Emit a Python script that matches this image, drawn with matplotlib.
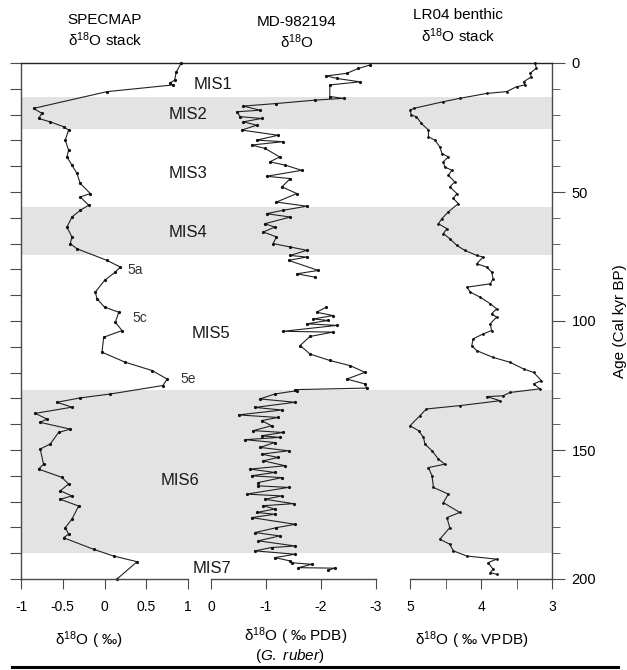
import numpy as np
import matplotlib
matplotlib.use("Agg")
import matplotlib.pyplot as plt

plt.rcParams['font.family'] = ['Liberation Sans', 'DejaVu Sans']
plt.rcParams['mathtext.fontset'] = 'custom'
plt.rcParams['mathtext.rm'] = 'Liberation Sans'
plt.rcParams['mathtext.it'] = 'Liberation Sans:italic'

# SPECMAP d18O stack
spec_age = [0, 3.4, 6.6, 7.9, 8.5, 11.1, 17.6, 19.5, 21.5, 22.8, 24.7, 26, 29.9, 33.8, 36.4,
            39.6, 42.8, 46.7, 50.6, 51.9, 55.1, 57.1, 59.7, 63.6, 67.4, 70, 72, 76.5, 79.1,
            81, 84.3, 88.8, 91.4, 94.6, 96.6, 100.5, 103.7, 106.3, 112.1, 116, 119.2, 122.5,
            125, 128.3, 129.8, 131.5, 133.4, 135.8, 138, 139.3, 141.9, 143.2, 147.7, 149.6,
            155.5, 157.4, 160.6, 163.2, 165.8, 167.8, 169.1, 171.7, 176.8, 180.1, 182.6, 184,
            188.5, 191.1, 193.3, 200]
spec_d18o = [0.92, 0.86, 0.84, 0.78, 0.82, 0.03, -0.85, -0.75, -0.79, -0.65, -0.49, -0.43,
             -0.47, -0.43, -0.45, -0.39, -0.33, -0.29, -0.17, -0.29, -0.19, -0.29, -0.39, -0.45,
             -0.39, -0.41, -0.33, 0.03, 0.19, 0.13, 0.0, -0.11, -0.09, 0.0, 0.17, 0.13, 0.21,
             -0.01, -0.03, 0.25, 0.57, 0.75, 0.70, 0.07, -0.29, -0.57, -0.39, -0.83, -0.69,
             -0.77, -0.41, -0.55, -0.65, -0.77, -0.73, -0.79, -0.51, -0.43, -0.53, -0.39, -0.53,
             -0.31, -0.39, -0.47, -0.43, -0.49, -0.13, 0.11, 0.39, 0.15]

# MD-982194 G. ruber d18O (gap between ~83 and ~95 kyr)
md_age = [0.8, 2.1, 4, 5, 6, 7.3, 8.5, 13, 13.7, 14.4, 15.7, 16.7, 18.3, 18.9, 20.8, 21.5,
          22.8, 24.1, 26, 28, 29.9, 30.5, 31.8, 33.1, 36.4, 38.3, 39.6, 41.6, 43.9, 44.8, 48,
          50.6, 53.9, 55.5, 57.1, 58.4, 59.7, 62.3, 63.6, 65.5, 67.4, 70, 71.3, 72.6, 74.6,
          75.2, 76.5, 80.4, 81.7, 83,
          None,
          94.6, 96.6, 97.9, 99.2, 99.8, 101.1, 101.7, 104, 104.3, 106, 109.5, 112.8, 115.3,
          117.3, 119.9, 122.5, 124.4, 126, 126.6, 127, 128.3, 130.2, 131.5, 133.5, 134.5,
          136.4, 137.4, 138.6, 140.6, 142.5, 143.2, 144.5, 145.1, 146, 147.1, 149, 150.3,
          151.6, 152.9, 154.2, 156.1, 157.4, 158.7, 160, 160.7, 162.6, 163.9, 164.5, 167.1,
          167.8, 169.1, 170.8, 171.6, 172.9, 174.2, 174.9, 176.2, 178.8, 180.1, 182, 183.3,
          185.2, 187.2, 187.8, 189.1, 190.4, 191.7, 193, 193.7, 194.3, 195.6, 195.8, 196.6]
md_d18o = [-2.89, -2.68, -2.47, -2.10, -2.29, -2.71, -2.16, -2.16, -2.41, -1.89, -1.19, -0.59,
           -0.89, -0.47, -0.53, -0.92, -0.59, -0.83, -0.56, -1.22, -0.83, -1.31, -0.74, -0.98,
           -1.25, -1.07, -1.35, -1.65, -1.01, -1.44, -1.29, -1.56, -1.19, -1.74, -1.31, -1.01,
           -1.44, -0.98, -1.16, -0.95, -1.19, -1.13, -1.44, -1.74, -1.44, -1.74, -1.41, -1.95,
           -1.56, -1.89,
           None,
           -2.10, -1.92, -2.22, -1.86, -2.13, -1.74, -2.29, -1.31, -2.22, -1.80, -1.62, -1.80,
           -2.16, -2.53, -2.80, -2.47, -2.80, -2.83, -1.53, -1.56, -1.16, -0.89, -1.53, -0.80,
           -1.29, -0.50, -1.22, -0.92, -1.10, -0.77, -1.31, -0.92, -1.25, -0.62, -1.16, -0.89,
           -1.41, -0.92, -1.22, -0.95, -1.35, -0.71, -1.16, -0.74, -1.29, -0.86, -0.86, -1.41,
           -0.65, -1.29, -0.98, -1.50, -0.95, -1.16, -0.83, -1.16, -0.74, -1.53, -1.19, -0.80,
           -1.25, -0.86, -1.53, -1.10, -0.80, -1.53, -1.16, -1.44, -1.47, -1.83, -1.59, -2.25,
           -2.13]

# LR04 benthic d18O stack
lr_age = [0, 2, 4, 5.3, 7.3, 8.5, 9.2, 11.1, 11.8, 13.7, 15, 17.6, 18.3, 20.2, 20.8, 23.4, 26,
          28.6, 29.9, 32.5, 35.1, 36.4, 38.3, 40.3, 41.6, 43.5, 46.1, 48, 50.6, 52.5, 54.5,
          57.7, 60.3, 62.3, 64.2, 66.1, 68.1, 70.7, 72.6, 74.6, 75.2, 77.8, 79.1, 81, 83.6,
          85.6, 86.9, 88.8, 90.8, 93.3, 95.3, 97.2, 98.5, 101.1, 103.7, 105, 106.9, 109.5,
          111.5, 114.1, 116, 118.6, 119.9, 123.1, 124.4, 126.3, 127.7, 129, 129.3, 130.9,
          132.8, 134.1, 136.7, 140.6, 142.5, 145.1, 147.7, 150.3, 153.5, 155.5, 156.8, 160,
          164.5, 167.1, 170.4, 174.2, 176.2, 180.1, 184.6, 186.5, 189.1, 191.1, 192.3, 193.7,
          196.2, 197.5, 198.2]
lr_d18o = [3.24, 3.22, 3.31, 3.29, 3.40, 3.38, 3.50, 3.64, 3.92, 4.30, 4.53, 4.95, 5.0, 4.98,
           4.91, 4.84, 4.74, 4.74, 4.65, 4.58, 4.55, 4.46, 4.53, 4.51, 4.41, 4.46, 4.37, 4.44,
           4.34, 4.39, 4.32, 4.46, 4.55, 4.60, 4.48, 4.53, 4.44, 4.34, 4.23, 4.06, 3.97, 4.06,
           3.92, 3.85, 3.83, 3.87, 4.20, 4.15, 4.01, 3.87, 3.78, 3.85, 3.78, 3.87, 3.85, 3.97,
           4.11, 4.13, 4.06, 3.83, 3.59, 3.40, 3.26, 3.15, 3.26, 3.17, 3.59, 3.69, 3.92, 3.73,
           4.30, 4.77, 4.86, 5.0, 4.88, 4.81, 4.79, 4.69, 4.60, 4.51, 4.74, 4.69, 4.67, 4.46,
           4.53, 4.30, 4.48, 4.44, 4.58, 4.44, 4.39, 4.20, 3.78, 3.90, 3.83, 3.87, 3.78]

# glacial stages (shaded)
band_top = [13.1, 55.8, 126.7]
band_bottom = [25.7, 74.4, 190]

mis_names = ["MIS1", "MIS2", "MIS3", "MIS4", "MIS5", "MIS6", "MIS7"]
mis_ages = [8.5, 20, 42.7, 65.8, 105, 162, 196]
mis_px = [213, 188, 188, 188, 211, 180, 212]
sub_names = ["5a", "5c", "5e"]
sub_ages = [80.4, 99, 122.5]
sub_px = [135, 140, 188]

W, H = 627, 670
fig = plt.figure(figsize=(W / 100, H / 100), dpi=100)


def box(x0, x1, y0=63, y1=579):
    return [x0 / W, 1 - y1 / H, (x1 - x0) / W, (y1 - y0) / H]


spine_c = '#4a4a4a'

# background frame with shading and age axis
bg = fig.add_axes(box(21, 552))
bg.set_ylim(200, 0)
bg.set_xlim(0, 1)
for t, b in zip(band_top, band_bottom):
    bg.axhspan(t, b, color='#e3e3e3', lw=0, zorder=0)
bg.spines['bottom'].set_visible(False)
for s in ['top', 'left', 'right']:
    bg.spines[s].set_color(spine_c)
    bg.spines[s].set_linewidth(1.0)
bg.spines['top'].set_color('#222222')
bg.set_xticks([])
bg.set_yticks(np.arange(0, 201, 50))
bg.set_yticks(np.arange(0, 201, 10), minor=True)
bg.yaxis.tick_right()
bg.tick_params(axis='y', which='major', direction='out', length=9, color=spine_c,
               labelsize=10.5, pad=5, left=False, right=True)
bg.tick_params(axis='y', which='minor', direction='out', length=6, color=spine_c,
               left=False, right=True)
bg.yaxis.set_label_position('right')
bg.set_ylabel("Age (Cal kyr BP)", fontsize=11, labelpad=12)

# left tick marks
lt = fig.add_axes(box(21, 552))
lt.set_ylim(200, 0)
lt.patch.set_visible(False)
for s in lt.spines.values():
    s.set_visible(False)
lt.set_xticks([])
lt.set_yticks(np.arange(0, 201, 10))
lt.tick_params(axis='y', direction='out', length=8, color=spine_c, labelleft=False)


def panel(x0, x1, lim, major, minor, labels, series_age, series_val, ms):
    ax = fig.add_axes(box(x0, x1))
    ax.patch.set_visible(False)
    ax.set_ylim(200, 0)
    ax.set_xlim(*lim)
    for s in ['top', 'left', 'right']:
        ax.spines[s].set_visible(False)
    ax.spines['bottom'].set_color(spine_c)
    ax.spines['bottom'].set_linewidth(1.0)
    ax.set_yticks([])
    ax.set_xticks(major)
    ax.set_xticklabels(labels)
    ax.set_xticks(minor, minor=True)
    ax.tick_params(axis='x', which='both', direction='out', length=7, color=spine_c,
                   labelsize=10, pad=8)
    a = np.array([np.nan if v is None else v for v in series_age], dtype=float)
    v = np.array([np.nan if q is None else q for q in series_val], dtype=float)
    ax.plot(v, a, color='#222222', lw=0.8, marker='o', ms=ms, mfc='#111111',
            mec='#111111', clip_on=False)
    return ax


ax1 = panel(21, 188, (-1, 1), [-1, -0.5, 0, 0.5, 1], [], ["-1", "-0.5", "0", "0.5", "1"],
            spec_age, spec_d18o, 1.3)
ax2 = panel(211, 376, (0, -3), [0, -1, -2, -3], [], ["0", "-1", "-2", "-3"],
            md_age, md_d18o, 1.3)
ax3 = panel(410, 552, (5, 3), [5, 4, 3], [4.5, 3.5], ["5", "4", "3"],
            lr_age, lr_d18o, 1.0)

# stage labels
for name, age, px in zip(mis_names, mis_ages, mis_px):
    bg.text((px - 21) / 531, age, name, ha='center', va='center', fontsize=12, color='#1a1a1a')
for name, age, px in zip(sub_names, sub_ages, sub_px):
    bg.text((px - 21) / 531, age, name, ha='center', va='center', fontsize=10, color='#333333')

# column titles
fig.text(105 / W, 1 - 20 / H, "SPECMAP", ha='center', va='center', fontsize=11)
fig.text(105 / W, 1 - 40 / H, r"δ$^{18}$O stack", ha='center', va='center', fontsize=11)
fig.text(297 / W, 1 - 22 / H, "MD-982194", ha='center', va='center', fontsize=11)
fig.text(297 / W, 1 - 42 / H, r"δ$^{18}$O", ha='center', va='center', fontsize=11)
fig.text(458 / W, 1 - 15 / H, "LR04 benthic", ha='center', va='center', fontsize=11)
fig.text(458 / W, 1 - 36 / H, r"δ$^{18}$O stack", ha='center', va='center', fontsize=11)

# bottom axis titles
fig.text(89 / W, 1 - 640 / H, r"δ$^{18}$O ( ‰)", ha='center', va='center', fontsize=11)
fig.text(296 / W, 1 - 636 / H, r"δ$^{18}$O ( ‰ PDB)", ha='center', va='center', fontsize=11)
fig.text(290 / W, 1 - 656 / H, r"($\mathit{G.\ ruber}$)", ha='center', va='center', fontsize=11)
fig.text(472 / W, 1 - 640 / H, r"δ$^{18}$O ( ‰ VPDB)", ha='center', va='center', fontsize=11)

fig.add_artist(plt.Line2D([12 / W, 618 / W], [1 - 667 / H, 1 - 667 / H], color='black', lw=2.2))

fig.savefig("out.png", dpi=100)
